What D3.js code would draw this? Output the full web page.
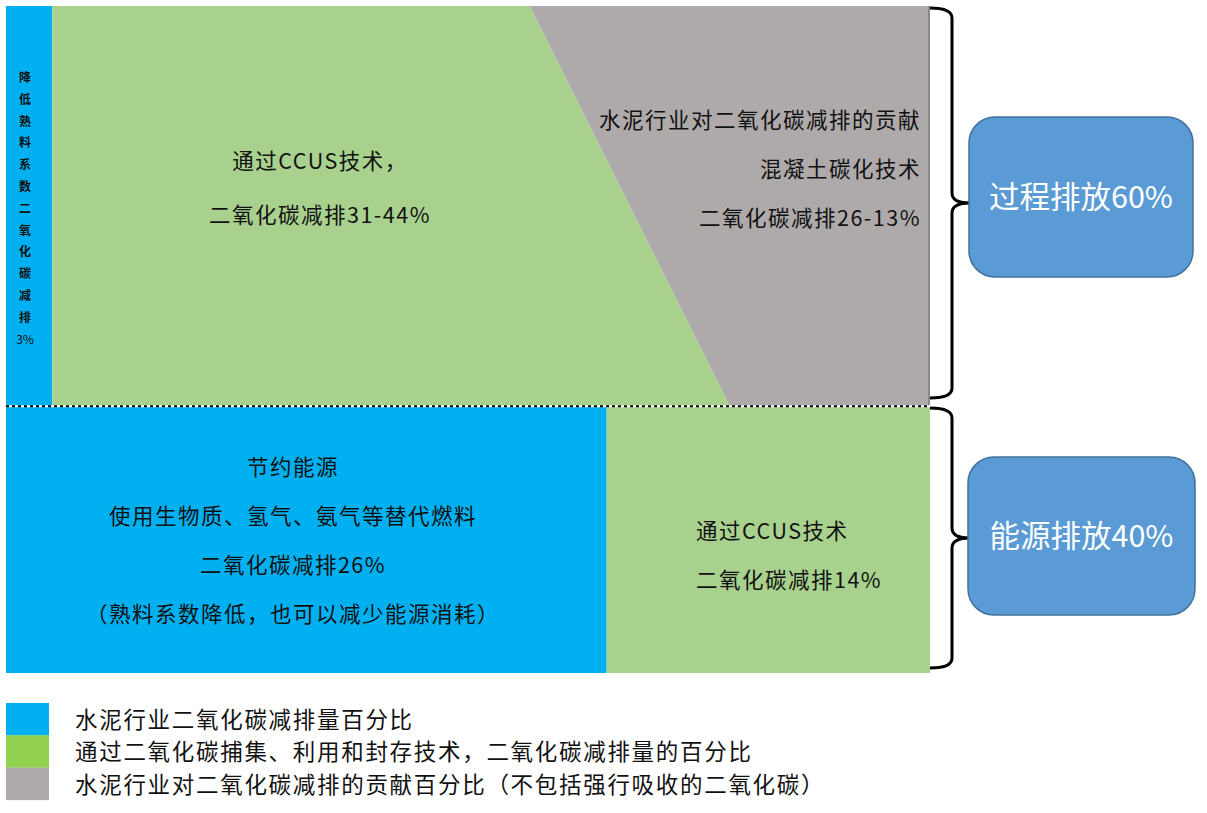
<!DOCTYPE html>
<html>
<head>
<meta charset="utf-8">
<script src="https://cdn.jsdelivr.net/npm/d3@7"></script>
<style>
  body { margin:0; background:#fff; }
  text { font-family:"Noto Sans CJK SC","Noto Sans",sans-serif; }
</style>
</head>
<body>
<svg id="chart"></svg>
<script>
// shares of cement CO2 emissions (percent)
var sections = ["过程排放", "能源排放"];
var sectionShare = [60, 40];
// process section: clinker factor / CCUS / concrete carbonation (start -> end)
var processStart = [3, 31, 26];
var processEnd = [3, 44, 13];
// energy section: energy saving / CCUS
var energyShare = [26, 14];
var legendLabels = [
    "水泥行业二氧化碳减排量百分比",
    "通过二氧化碳捕集、利用和封存技术，二氧化碳减排量的百分比",
    "水泥行业对二氧化碳减排的贡献百分比（不包括强行吸收的二氧化碳）"
];

var screen = {width:1207, height:813};
var area = {left:6, right:930, top:6, bottom:673};
var colors = {blue:"#00b0f0", green:"#a9d18e", gray:"#aeaaaa", legendGreen:"#92d050", box:"#5b9bd5"};

var svg = d3.select("#chart")
    .attr("width", screen.width)
    .attr("height", screen.height);

var yScale = d3.scaleLinear()
    .domain([0, d3.sum(sectionShare)])
    .range([area.top, area.bottom]);

var yMid = yScale(sectionShare[0]);

var xTop = d3.scaleLinear()
    .domain([0, sectionShare[0]])
    .range([area.left, area.right]);
var xBottom = d3.scaleLinear()
    .domain([0, sectionShare[1]])
    .range([area.left, area.right]);

// ---- process section ----
var procG = svg.append("g").classed("process", true);
var cumStart = d3.cumsum(processStart);
var cumEnd = d3.cumsum(processEnd);
var topFill = [colors.blue, colors.green, colors.gray];

procG.selectAll("path")
    .data(processStart)
    .enter()
    .append("path")
    .attr("fill", function(d, i){ return topFill[i]; })
    .attr("d", function(d, i)
    {
        var s0 = i == 0 ? 0 : cumStart[i-1];
        var e0 = i == 0 ? 0 : cumEnd[i-1];
        var pts = [
            [xTop(s0), yScale(0)],
            [xTop(cumStart[i]), yScale(0)],
            [xTop(cumEnd[i]), yMid],
            [xTop(e0), yMid]
        ];
        return "M" + pts.join("L") + "Z";
    });

procG.append("line")
    .attr("x1", area.right - 1).attr("x2", area.right - 1)
    .attr("y1", yScale(0)).attr("y2", yMid)
    .attr("stroke", "#8c8888").attr("stroke-width", 2);

// ---- energy section ----
var energyG = svg.append("g").classed("energy", true);
var cumEnergy = d3.cumsum(energyShare);
var bottomFill = [colors.blue, colors.green];
energyG.selectAll("rect")
    .data(energyShare)
    .enter()
    .append("rect")
    .attr("fill", function(d, i){ return bottomFill[i]; })
    .attr("x", function(d, i){ return xBottom(i == 0 ? 0 : cumEnergy[i-1]); })
    .attr("width", function(d){ return xBottom(d) - xBottom(0); })
    .attr("y", yMid)
    .attr("height", yScale(d3.sum(sectionShare)) - yMid);

// dashed separator
svg.append("line")
    .attr("x1", area.left).attr("x2", area.right)
    .attr("y1", yMid).attr("y2", yMid)
    .attr("stroke", "#fff").attr("stroke-width", 2);
svg.append("line")
    .attr("x1", area.left).attr("x2", area.right)
    .attr("y1", yMid).attr("y2", yMid)
    .attr("stroke", "#000").attr("stroke-width", 2)
    .attr("stroke-dasharray", "3,3");

// ---- labels inside ----
var labels = svg.append("g").classed("labels", true);

var vertical = "降低熟料系数二氧化碳减排".split("").concat(["3%"]);
labels.append("g")
    .selectAll("text")
    .data(vertical)
    .enter()
    .append("text")
    .text(function(d){ return d; })
    .attr("x", 25)
    .attr("y", function(d, i){ return 82 + i*21.8; })
    .attr("text-anchor", "middle")
    .attr("font-size", 12)
    .attr("font-weight", function(d){ return d == "3%" ? "normal" : "bold"; })
    .attr("fill", "#111");

var addLines = function(lines, x, y0, step, anchor, size)
{
    labels.append("g")
        .selectAll("text")
        .data(lines)
        .enter()
        .append("text")
        .text(function(d){ return d; })
        .attr("x", x)
        .attr("y", function(d, i){ return y0 + i*step; })
        .attr("text-anchor", anchor)
        .attr("font-size", size)
        .attr("letter-spacing", 1.5)
        .attr("fill", "#111");
};

addLines(["通过CCUS技术，", "二氧化碳减排" + processStart[1] + "-" + processEnd[1] + "%"], 320, 169, 54, "middle", 21.5);
addLines(["水泥行业对二氧化碳减排的贡献", "混凝土碳化技术", "二氧化碳减排" + processStart[2] + "-" + processEnd[2] + "%"], 921, 128, 49, "end", 21.5);
addLines(["节约能源", "使用生物质、氢气、氨气等替代燃料", "二氧化碳减排" + energyShare[0] + "%", "（熟料系数降低，也可以减少能源消耗）"], 293, 475, 49, "middle", 21.5);
addLines(["通过CCUS技术", "二氧化碳减排" + energyShare[1] + "%"], 696, 539, 49, "start", 21.5);

// ---- braces and boxes ----
var brace = function(y0, y1)
{
    var xs = area.right, xb = 952, xt = 970, ym = (y0 + y1)/2, r = 10;
    return "M" + xs + "," + y0 +
        " Q" + xb + "," + y0 + " " + xb + "," + (y0 + r) +
        " L" + xb + "," + (ym - r) +
        " Q" + xb + "," + ym + " " + xt + "," + ym +
        " Q" + xb + "," + ym + " " + xb + "," + (ym + r) +
        " L" + xb + "," + (y1 - r) +
        " Q" + xb + "," + y1 + " " + xs + "," + y1;
};

var groups = [
    {name:sections[0], share:sectionShare[0], y0:8, y1:398, box:[969, 117, 224, 160]},
    {name:sections[1], share:sectionShare[1], y0:408, y1:668, box:[968, 457, 227, 158]}
];

var side = svg.append("g").classed("side", true);
side.selectAll("path")
    .data(groups)
    .enter()
    .append("path")
    .attr("d", function(g){ return brace(g.y0, g.y1); })
    .attr("fill", "none")
    .attr("stroke", "#000")
    .attr("stroke-width", 3);

var boxes = side.selectAll("g")
    .data(groups)
    .enter()
    .append("g");
boxes.append("rect")
    .attr("x", function(g){ return g.box[0]; })
    .attr("y", function(g){ return g.box[1]; })
    .attr("width", function(g){ return g.box[2]; })
    .attr("height", function(g){ return g.box[3]; })
    .attr("rx", 26)
    .attr("fill", colors.box)
    .attr("stroke", "#41719c")
    .attr("stroke-width", 1.5);
boxes.append("text")
    .text(function(g){ return g.name + g.share + "%"; })
    .attr("x", function(g){ return g.box[0] + g.box[2]/2; })
    .attr("y", function(g){ return g.box[1] + g.box[3]/2 + 11; })
    .attr("text-anchor", "middle")
    .attr("font-size", 30.5)
    .attr("fill", "#fff");

// ---- legend ----
var legend = svg.append("g")
    .classed("legend", true)
    .attr("transform", "translate(6,703)");
var legendFill = [colors.blue, colors.legendGreen, colors.gray];
var entries = legend.selectAll("g")
    .data(legendLabels)
    .enter()
    .append("g")
    .attr("transform", function(d, i){ return "translate(0," + i*32.3 + ")"; });
entries.append("rect")
    .attr("width", 43)
    .attr("height", 32.5)
    .attr("fill", function(d, i){ return legendFill[i]; });
entries.append("text")
    .text(function(d){ return d; })
    .attr("x", 69)
    .attr("y", 25)
    .attr("font-size", 22.5)
    .attr("letter-spacing", 1.7)
    .attr("fill", "#111");
</script>
</body>
</html>
